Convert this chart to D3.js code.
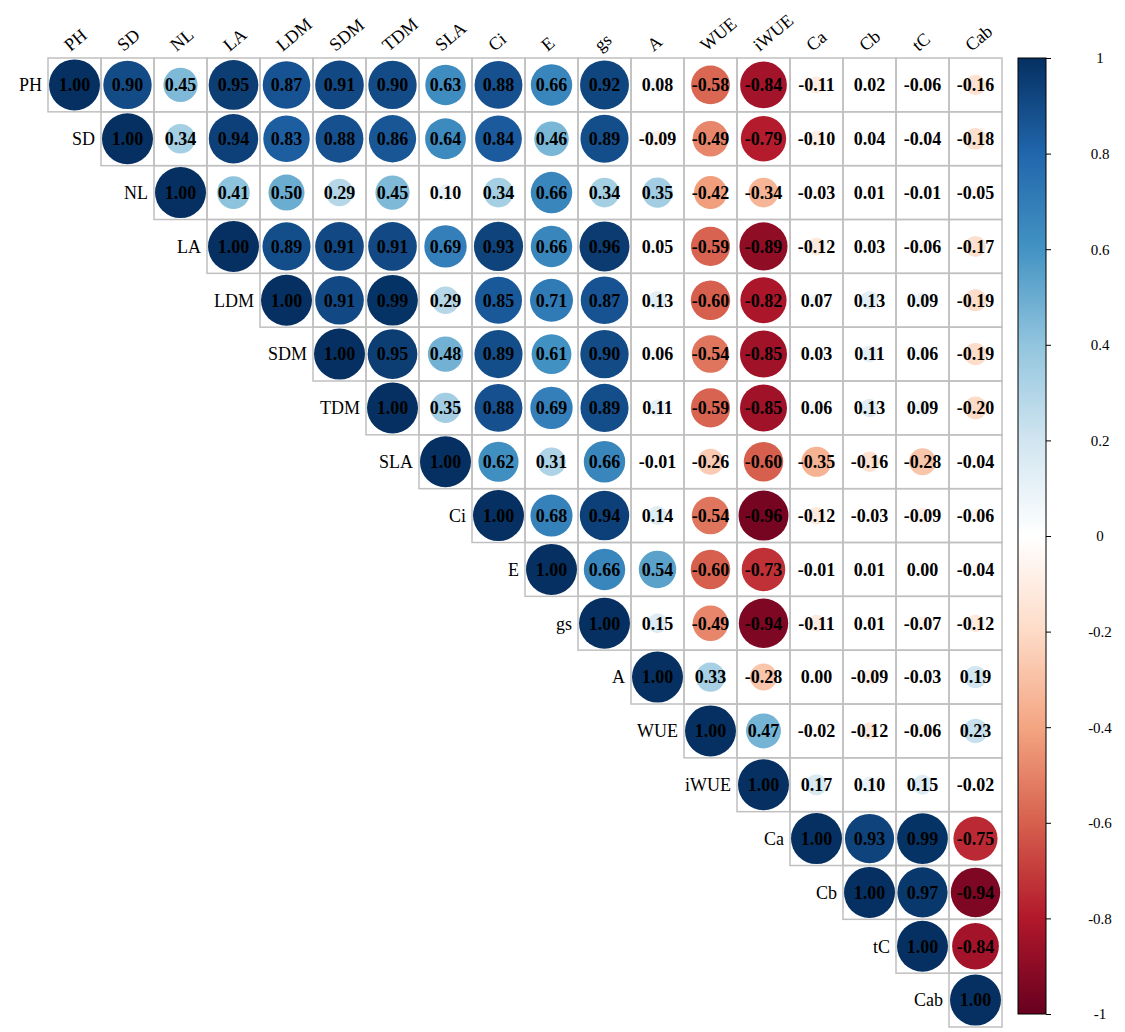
<!DOCTYPE html>
<html lang="en">
<head>
<meta charset="UTF-8">
<title>Correlation matrix</title>
<style>
  body { margin: 0; background: #fff; }
  svg text { font-family: "Liberation Serif", "Times New Roman", serif; }
</style>
</head>
<body>
<svg id="chart" width="1125" height="1032"></svg>
<script src="https://d3js.org/d3.v7.min.js"></script>
<script>
const vars = ["PH","SD","NL","LA","LDM","SDM","TDM","SLA","Ci","E","gs","A","WUE","iWUE","Ca","Cb","tC","Cab"];

// upper triangle, each row starts at its diagonal
const rows = [
  [1.00,0.90,0.45,0.95,0.87,0.91,0.90,0.63,0.88,0.66,0.92,0.08,-0.58,-0.84,-0.11,0.02,-0.06,-0.16],
  [1.00,0.34,0.94,0.83,0.88,0.86,0.64,0.84,0.46,0.89,-0.09,-0.49,-0.79,-0.10,0.04,-0.04,-0.18],
  [1.00,0.41,0.50,0.29,0.45,0.10,0.34,0.66,0.34,0.35,-0.42,-0.34,-0.03,0.01,-0.01,-0.05],
  [1.00,0.89,0.91,0.91,0.69,0.93,0.66,0.96,0.05,-0.59,-0.89,-0.12,0.03,-0.06,-0.17],
  [1.00,0.91,0.99,0.29,0.85,0.71,0.87,0.13,-0.60,-0.82,0.07,0.13,0.09,-0.19],
  [1.00,0.95,0.48,0.89,0.61,0.90,0.06,-0.54,-0.85,0.03,0.11,0.06,-0.19],
  [1.00,0.35,0.88,0.69,0.89,0.11,-0.59,-0.85,0.06,0.13,0.09,-0.20],
  [1.00,0.62,0.31,0.66,-0.01,-0.26,-0.60,-0.35,-0.16,-0.28,-0.04],
  [1.00,0.68,0.94,0.14,-0.54,-0.96,-0.12,-0.03,-0.09,-0.06],
  [1.00,0.66,0.54,-0.60,-0.73,-0.01,0.01,0.00,-0.04],
  [1.00,0.15,-0.49,-0.94,-0.11,0.01,-0.07,-0.12],
  [1.00,0.33,-0.28,0.00,-0.09,-0.03,0.19],
  [1.00,0.47,-0.02,-0.12,-0.06,0.23],
  [1.00,0.17,0.10,0.15,-0.02],
  [1.00,0.93,0.99,-0.75],
  [1.00,0.97,-0.94],
  [1.00,-0.84],
  [1.00]
];

const barTicks = [-1,-0.8,-0.6,-0.4,-0.2,0,0.2,0.4,0.6,0.8,1];
const palette = ["#67001F","#B2182B","#D6604D","#F4A582","#FDDBC7","#FFFFFF","#D1E5F0","#92C5DE","#4393C3","#2166AC","#053061"];

const cells = [];
rows.forEach((r, i) => r.forEach((v, k) => cells.push({ i, j: i + k, v })));

const svg = d3.select("#chart");
const x = d3.scaleBand().domain(d3.range(vars.length)).range([48, 1002]);
const y = d3.scaleBand().domain(d3.range(vars.length)).range([58, 1027]);
const color = d3.scaleLinear().domain(barTicks).range(palette);
const rmax = Math.min(x.bandwidth(), y.bandwidth()) / 2 - 1;

const g = svg.append("g");
g.selectAll("rect").data(cells).join("rect")
  .attr("x", d => x(d.j)).attr("y", d => y(d.i))
  .attr("width", x.bandwidth()).attr("height", y.bandwidth())
  .attr("fill", "none").attr("stroke", "#c0c0c0").attr("stroke-width", 1.5);

g.selectAll("circle").data(cells).join("circle")
  .attr("cx", d => x(d.j) + x.bandwidth() / 2)
  .attr("cy", d => y(d.i) + y.bandwidth() / 2)
  .attr("r", d => rmax * Math.sqrt(Math.abs(d.v)))
  .attr("fill", d => color(d.v));

g.selectAll("text.val").data(cells).join("text").attr("class", "val")
  .attr("x", d => x(d.j) + x.bandwidth() / 2)
  .attr("y", d => y(d.i) + y.bandwidth() / 2)
  .attr("dy", "0.35em").attr("text-anchor", "middle")
  .attr("font-size", 18).attr("font-weight", "bold").attr("fill", "#000")
  .text(d => d.v.toFixed(2));

// row labels
svg.selectAll("text.row").data(vars).join("text").attr("class", "row")
  .attr("x", (d, i) => x(i) - 6)
  .attr("y", (d, i) => y(i) + y.bandwidth() / 2)
  .attr("dy", "0.35em").attr("text-anchor", "end")
  .attr("font-size", 18).text(d => d);

// column labels
svg.selectAll("text.col").data(vars).join("text").attr("class", "col")
  .attr("transform", (d, i) => `translate(${x(i) + x.bandwidth() / 2 - 4},${y(0) - 6}) rotate(-40)`)
  .attr("text-anchor", "start").attr("font-size", 18).text(d => d);

// colour bar
const bx = 1018, bw = 28;
const by = d3.scaleLinear().domain([-1, 1]).range([1014, 58]);
const defs = svg.append("defs");
const grad = defs.append("linearGradient").attr("id", "cbar")
  .attr("x1", 0).attr("y1", 1).attr("x2", 0).attr("y2", 0);
barTicks.forEach((t, k) => grad.append("stop")
  .attr("offset", k / (barTicks.length - 1)).attr("stop-color", palette[k]));
svg.append("rect").attr("x", bx).attr("y", by(1)).attr("width", bw)
  .attr("height", by(-1) - by(1)).attr("fill", "url(#cbar)")
  .attr("stroke", "#000").attr("stroke-width", 1);

const axis = svg.append("g").attr("transform", `translate(${bx + bw},0)`)
  .call(d3.axisRight(by).tickValues(barTicks).tickSize(5).tickFormat(d => String(+d.toFixed(1))));
axis.select(".domain").remove();
axis.selectAll("text").attr("x", 54).attr("text-anchor", "middle")
  .attr("font-size", 15).attr("font-family", "Liberation Sans, Arial, sans-serif");
</script>
</body>
</html>
